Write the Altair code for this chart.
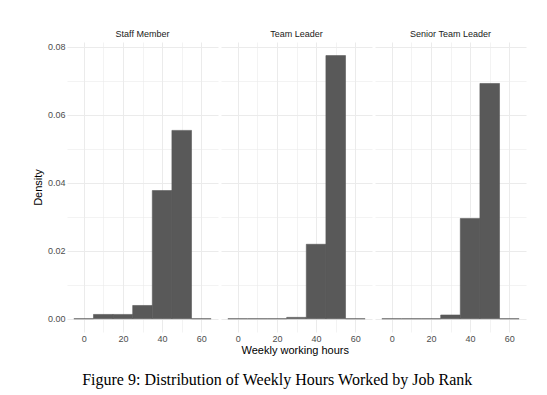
import altair as alt
import pandas as pd

ranks = ["Staff Member", "Team Leader", "Senior Team Leader"]
bin_centers = [0, 10, 20, 30, 40, 50, 60]
bin_width = 10
staff_density = [0.0, 0.00127, 0.00127, 0.0039, 0.0377, 0.0554, 0.0]
team_density = [0.0, 0.0, 0.0, 0.0004, 0.0219, 0.0774, 0.0]
senior_density = [0.0, 0.0, 0.0, 0.0011, 0.0295, 0.0692, 0.0]

x_ticks = [0, 10, 20, 30, 40, 50, 60]
y_ticks = [0.0, 0.01, 0.02, 0.03, 0.04, 0.05, 0.06, 0.07, 0.08]

x_title = "Weekly working hours"
y_title = "Density"
caption = "Figure 9: Distribution of Weekly Hours Worked by Job Rank"

rows = []
for rank, dens in zip(ranks, [staff_density, team_density, senior_density]):
    for c, d in zip(bin_centers, dens):
        rows.append({"rank": rank, "lo": c - bin_width / 2, "hi": c + bin_width / 2, "density": d})
df = pd.DataFrame(rows)

SANS = "Liberation Sans"
grid_w = {"condition": {"test": "datum.value % 20 == 0", "value": 1.0}, "value": 0.6}
grid_wy = {"condition": {"test": "round(datum.value * 100) % 2 == 0", "value": 1.0}, "value": 0.6}

base = alt.Chart(df).mark_rect(color="#595959", stroke="#595959", strokeWidth=0.6).encode(
    x=alt.X("lo:Q", title=None,
            scale=alt.Scale(domain=[-8.5, 68.5], nice=False, zero=False),
            axis=alt.Axis(values=x_ticks, labelExpr="datum.value % 20 == 0 ? datum.label : ''",
                          gridWidth=grid_w, gridColor="#ebebeb", domain=False, ticks=False,
                          labelPadding=2, labelFontSize=9, labelColor="#4d4d4d", labelFont=SANS)),
    x2="hi:Q",
    y=alt.Y("density:Q", title=y_title,
            scale=alt.Scale(domain=[-0.0039, 0.0814], nice=False, zero=False),
            axis=alt.Axis(values=y_ticks, format=".2f",
                          labelExpr="round(datum.value * 100) % 2 == 0 ? datum.label : ''",
                          gridWidth=grid_wy, gridColor="#ebebeb", domain=False, ticks=False,
                          labelPadding=2, labelFontSize=9, labelColor="#4d4d4d", labelFont=SANS,
                          titleFontSize=11, titleFont=SANS, titleFontWeight="normal",
                          titleColor="black", titlePadding=4)),
    y2=alt.datum(0),
).properties(width=151, height=290)

facet = base.facet(
    column=alt.Column("rank:N", sort=ranks,
                      header=alt.Header(title=None, labelFontSize=9, labelFont=SANS,
                                        labelColor="#1a1a1a", labelPadding=3)),
    spacing=3,
).properties(
    title=alt.TitleParams(x_title, orient="bottom", anchor="middle", fontSize=11, font=SANS,
                          fontWeight="normal", color="black", offset=2, dx=16)
)

chart = alt.vconcat(facet).properties(
    title=alt.TitleParams(caption, orient="bottom", anchor="middle", fontSize=16,
                          font="Liberation Serif", fontWeight="normal", color="black",
                          offset=16, dx=-2),
    padding={"left": 24, "top": 22, "right": 5, "bottom": 5},
).configure_view(stroke=None).configure_concat(spacing=0)

chart.save("out.html", embed_options={"renderer": "svg", "actions": False})
